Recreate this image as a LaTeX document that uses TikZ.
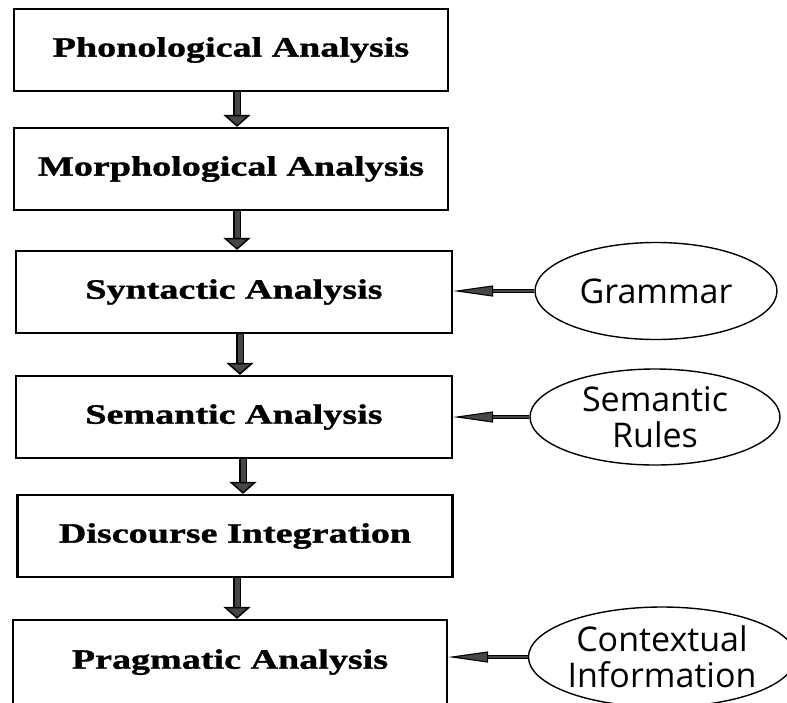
\documentclass[tikz,border=0pt]{standalone}
\usepackage{fontspec}
\usepackage{tikz}
\usetikzlibrary{arrows.meta, shapes.geometric}
\newfontfamily\boxfont[FakeStretch=1.36, FakeBold=1.2]{Liberation Serif}
\newfontfamily\ellfont{Open Sans}
\definecolor{shaft}{RGB}{70,70,70}
\tikzset{
  stage/.style={draw, line width=2.2pt, minimum width=434pt, minimum height=82pt,
    font=\boxfont\bfseries\fontsize{28}{32}\selectfont},
  source/.style={draw, ellipse, line width=1.4pt, inner sep=0pt, align=center,
    font=\ellfont\fontsize{34}{36}\selectfont},
  downarrow/.style={double=shaft, double distance=5pt, line width=1.5pt,
    -{Triangle[width=27pt, length=12pt, fill=shaft]}},
  sidearrow/.style={double=shaft, double distance=1.4pt, line width=1.1pt,
    -{Triangle[width=11pt, length=40pt, fill=shaft]}}
}

\begin{document}
\begin{tikzpicture}[x=1pt, y=-1pt]
\useasboundingbox (0,0) rectangle (787,702);
\clip (0,0) rectangle (787,702);
\node (phon) at (231,50)[stage] {Phonological Analysis};
\node (morph) at (231,169)[stage] {Morphological Analysis};
\node (synt) at (234,292)[stage, minimum width=436pt] {Syntactic Analysis};
\node (sem) at (234,417)[stage, minimum width=436pt] {Semantic Analysis};
\node (disc) at (235,536)[stage, minimum width=435pt] {Discourse Integration};
\node (prag) at (230,670)[stage, minimum height=100pt, text depth=22pt] {Pragmatic Analysis};
\draw[downarrow] (phon.south -| 237,0) -- (morph.north -| 237,0);
\draw[downarrow] (morph.south -| 237,0) -- (synt.north -| 237,0);
\draw[downarrow] (synt.south -| 240,0) -- (sem.north -| 240,0);
\draw[downarrow] (sem.south -| 243,0) -- (disc.north -| 243,0);
\draw[downarrow] (disc.south -| 237,0) -- (prag.north -| 237,0);
\node (gram) at (656,291)[source, minimum width=242pt, minimum height=97pt] {Grammar};
\node (rules) at (655,417)[source, minimum width=250pt, minimum height=96pt] {Semantic\\Rules};
\node (ctx) at (662,657)[source, minimum width=260pt, minimum height=100pt] {Contextual\\Information};
\draw[sidearrow] (gram.west) -- (gram.west -| synt.east);
\draw[sidearrow] (rules.west) -- (rules.west -| sem.east);
\draw[sidearrow] (ctx.west) -- (ctx.west -| prag.east);
\end{tikzpicture}
\end{document}
